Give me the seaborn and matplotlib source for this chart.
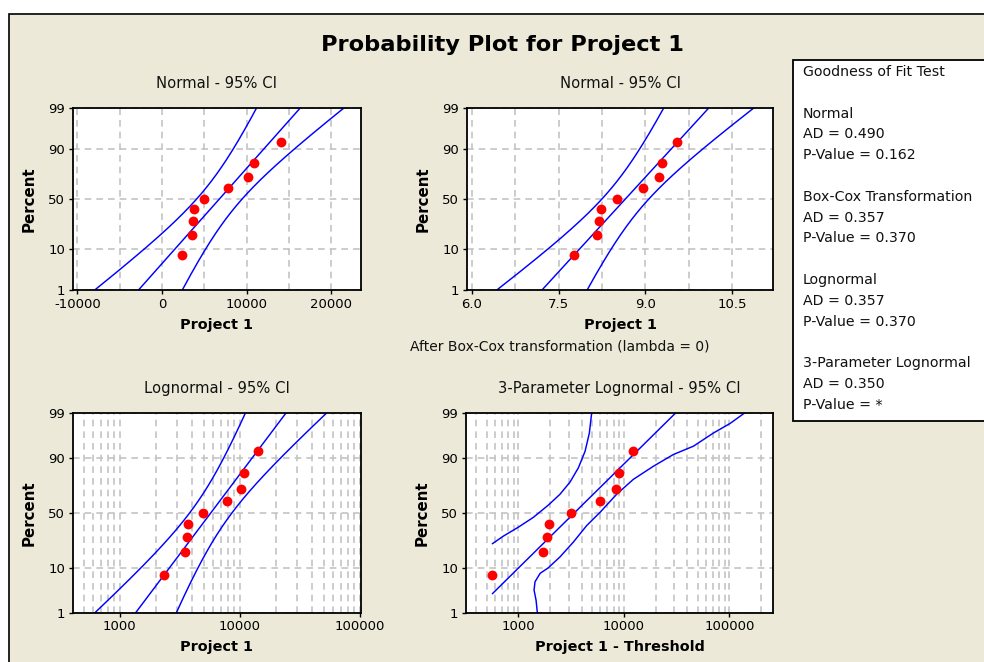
import numpy as np
import pandas as pd
import matplotlib
matplotlib.use("Agg")
import matplotlib.pyplot as plt
import seaborn as sns
from matplotlib.patches import Rectangle
from matplotlib.ticker import FixedLocator, FuncFormatter, NullFormatter, LogLocator
from statistics import NormalDist

# ---------------- data ----------------
project1 = [2350, 3520, 3650, 3730, 4960, 7790, 10160, 10850, 14100]
threshold_3p = 1790
ci_level = 0.95
percent_ticks = [1, 10, 50, 90, 99]

# 95% CI curves of the 3-parameter lognormal panel (percent, Project 1 - Threshold)
ci3_left_pct = [23.5, 29.3, 36.8, 45.7, 57.0, 66.6, 76.2, 85.2, 92.3, 96.8, 99.0]
ci3_left_val = [567, 721, 1000, 1388, 1924, 2481, 3090, 3708, 4287, 4710, 4958]
ci3_right_pct = [1.0, 2.1, 3.6, 5.4, 7.9, 10.0, 15.2, 24.7, 38.2, 50.3, 66.6, 78.1,
                 86.0, 91.2, 93.9, 96.8, 98.1, 99.0]
ci3_right_val = [1514, 1472, 1409, 1439, 1607, 1924, 2483, 3321, 4443, 5943, 8551, 12300,
                 19050, 29450, 45600, 70500, 101400, 140700]

panel_titles = ["Normal - 95% CI", "Normal - 95% CI",
                "Lognormal - 95% CI", "3-Parameter Lognormal - 95% CI"]
x_labels = ["Project 1", "Project 1", "Project 1", "Project 1 - Threshold"]
main_title = "Probability Plot for Project 1"
boxcox_note = "After Box-Cox transformation (lambda = 0)"
gof_lines = ["Goodness of Fit Test", "",
             "Normal", "AD = 0.490", "P-Value = 0.162", "",
             "Box-Cox Transformation", "AD = 0.357", "P-Value = 0.370", "",
             "Lognormal", "AD = 0.357", "P-Value = 0.370", "",
             "3-Parameter Lognormal", "AD = 0.350", "P-Value = *"]

# ---------------- style ----------------
sns.set_theme(style="white")
plt.rcParams["font.family"] = ["DejaVu Sans"]
BG = "#ECE9D8"
BLUE = "#0000FF"
RED = "#FF0000"
GRID = "#C4C4C4"

_nd = NormalDist()
_ppf = np.vectorize(_nd.inv_cdf, otypes=[float])
_cdf = np.vectorize(_nd.cdf, otypes=[float])


def pct_forward(p):
    p = np.clip(np.asarray(p, dtype=float), 1e-4, 100 - 1e-4)
    return _ppf(p / 100.0)


def pct_inverse(z):
    return _cdf(np.asarray(z, dtype=float)) * 100.0


q = _nd.inv_cdf(0.5 + ci_level / 2)
pct_grid = np.linspace(1, 99, 300)
z_grid = pct_forward(pct_grid)


def normal_fit(values, ddof=1):
    v = np.asarray(values, dtype=float)
    n = len(v)
    mu, s = v.mean(), v.std(ddof=ddof)
    fit = mu + z_grid * s
    se = s * np.sqrt((1 + z_grid ** 2 / 2) / n)
    return fit, fit - q * se, fit + q * se


data = np.sort(np.asarray(project1, dtype=float))
n = len(data)
ranks = (np.arange(1, n + 1) - 0.3) / (n + 0.4) * 100

W, H = 984, 662
fig = plt.figure(figsize=(W / 100, H / 100), dpi=100, facecolor="white")
fig.patches.append(Rectangle((8.5 / W, -0.05), 1.1, 1 - 14 / H + 0.05,
                             transform=fig.transFigure, facecolor=BG,
                             edgecolor="black", lw=1.2, zorder=-10))


def fax(l, t, r, b):
    return fig.add_axes([l / W, 1 - b / H, (r - l) / W, (b - t) / H])


ax1 = fax(72.7, 107.7, 361, 290)
ax2 = fax(466.7, 107.7, 773.3, 290)
ax3 = fax(72.7, 412.7, 361, 612.7)
ax4 = fax(465.7, 412.7, 773.3, 612.7)
axes = [ax1, ax2, ax3, ax4]


def draw_lines(ax, curves):
    for xs, ps in curves:
        df = pd.DataFrame({"x": xs, "p": ps})
        sns.lineplot(data=df, x="x", y="p", ax=ax, color=BLUE, lw=1.05,
                     sort=False, estimator=None, zorder=2)


def draw_points(ax, xs):
    df = pd.DataFrame({"x": xs, "p": ranks})
    sns.scatterplot(data=df, x="x", y="p", ax=ax, color=RED, s=50,
                    edgecolor=RED, linewidth=0, zorder=3)


for ax in axes:
    ax.set_yscale("function", functions=(pct_forward, pct_inverse))

# Panel 1: normal
f, lo, hi = normal_fit(data)
draw_lines(ax1, [(f, pct_grid), (lo, pct_grid), (hi, pct_grid)])
draw_points(ax1, data)

# Panel 2: Box-Cox (lambda = 0) -> ln
ln_data = np.log(data)
f, lo, hi = normal_fit(ln_data)
draw_lines(ax2, [(f, pct_grid), (lo, pct_grid), (hi, pct_grid)])
draw_points(ax2, ln_data)

# Panel 3: lognormal
ax3.set_xscale("log")
lg = np.log10(data)
f, lo, hi = normal_fit(lg)
draw_lines(ax3, [(10 ** f, pct_grid), (10 ** lo, pct_grid), (10 ** hi, pct_grid)])
draw_points(ax3, data)

# Panel 4: 3-parameter lognormal
ax4.set_xscale("log")
shifted = data - threshold_3p
lg3 = np.log10(shifted)
mu3, s3 = lg3.mean(), lg3.std(ddof=0)
fit3 = 10 ** (mu3 + z_grid * s3)
keep = fit3 >= shifted.min()
draw_lines(ax4, [(fit3[keep], pct_grid[keep]),
                 (ci3_left_val, ci3_left_pct),
                 (ci3_right_val, ci3_right_pct)])
draw_points(ax4, shifted)

# ---------------- axes formatting ----------------
xlims = [(-10551, 23504), (5.91, 11.21), (405, 102000), (317, 261000)]
int_fmt = FuncFormatter(lambda v, _: f"{v:.0f}")
for i, ax in enumerate(axes):
    ax.set_facecolor("white")
    ax.set_ylim(1, 99)
    ax.set_xlim(*xlims[i])
    ax.yaxis.set_major_locator(FixedLocator(percent_ticks))
    ax.yaxis.set_major_formatter(int_fmt)
    ax.yaxis.set_minor_locator(FixedLocator([]))
    if i == 0:
        ax.xaxis.set_major_locator(FixedLocator([-10000, 0, 10000, 20000]))
        ax.xaxis.set_minor_locator(FixedLocator([-5000, 5000, 15000]))
        ax.xaxis.set_major_formatter(int_fmt)
    elif i == 1:
        ax.xaxis.set_major_locator(FixedLocator([6.0, 7.5, 9.0, 10.5]))
        ax.xaxis.set_minor_locator(FixedLocator([6.75, 8.25, 9.75]))
        ax.xaxis.set_major_formatter(FuncFormatter(lambda v, _: f"{v:.1f}"))
    else:
        ax.xaxis.set_major_locator(LogLocator(base=10, numticks=10))
        ax.xaxis.set_minor_locator(LogLocator(base=10, subs=range(2, 10), numticks=20))
        ax.xaxis.set_major_formatter(int_fmt)
    ax.xaxis.set_minor_formatter(NullFormatter())
    ax.tick_params(which="major", direction="out", length=3, width=1, color="black",
                   labelsize=9.5, pad=2.5, left=True, bottom=True, labelcolor="black")
    ax.tick_params(which="minor", length=0)
    ax.set_axisbelow(True)
    ax.grid(True, which="major", axis="y", color=GRID, ls=(0, (4, 3)), lw=1.2)
    ax.grid(True, which="both", axis="x", color=GRID, ls=(0, (4, 3)), lw=1.2)
    for sp in ax.spines.values():
        sp.set_visible(True)
        sp.set_color("black")
        sp.set_linewidth(1.3)
    ax.set_title(panel_titles[i], fontsize=10.6, pad=14, color="#111111")
    ax.set_xlabel(x_labels[i], fontsize=10.4, fontweight="bold", labelpad=5, color="black")
    ax.set_ylabel("Percent", fontsize=10.8, fontweight="bold", labelpad=8, color="black")
    leg = ax.get_legend()
    if leg is not None:
        leg.remove()

# ---------------- texts ----------------
fig.text(502 / W, 1 - 45 / H, main_title, ha="center", va="center",
         fontsize=16.2, fontweight="bold", color="black")
fig.text(410 / W, 1 - 347 / H, boxcox_note, ha="left", va="center", fontsize=10,
         color="#111111")

fig.patches.append(Rectangle((793 / W, 1 - 420.7 / H), 0.3, (420.7 - 60) / H,
                             transform=fig.transFigure, facecolor="white",
                             edgecolor="black", lw=1.3, zorder=-5))
for k, line in enumerate(gof_lines):
    if line:
        fig.text(803 / W, 1 - (72 + k * 20.8) / H, line, ha="left", va="center",
                 fontsize=10.2, color="#111111")

fig.savefig("out.png", dpi=100, facecolor=fig.get_facecolor())
